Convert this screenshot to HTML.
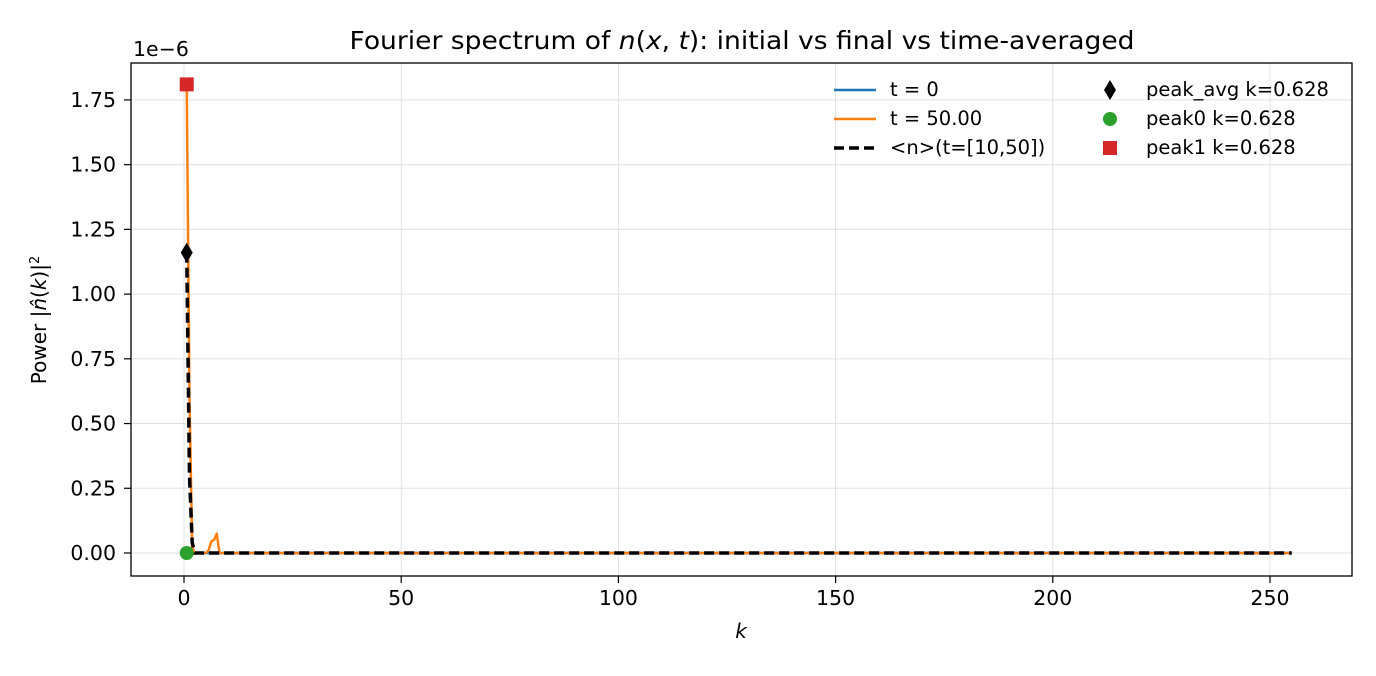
<!DOCTYPE html>
<html><head><meta charset="utf-8"><style>
body{margin:0;background:#fff;font-family:"DejaVu Sans","Liberation Sans",sans-serif;}
svg text{font-family:"DejaVu Sans","Liberation Sans",sans-serif;}
</style></head><body>
<svg id="c" width="1376" height="672" viewBox="0 0 1376 672" xmlns="http://www.w3.org/2000/svg">
<rect width="1376" height="672" fill="#fff"/>
<g id="grid"></g>
<g id="ticks"></g>
<g id="series"></g>
<rect x="131" y="63" width="1221" height="513" fill="none" stroke="#000" stroke-width="1.3"/>
<text x="742" y="49" font-size="24.5" text-anchor="middle" textLength="785" lengthAdjust="spacingAndGlyphs">Fourier spectrum of <tspan font-style="italic">n</tspan>(<tspan font-style="italic">x</tspan>, <tspan font-style="italic">t</tspan>): initial vs final vs time-averaged</text>
<text x="741" y="638" font-size="20" font-style="italic" text-anchor="middle">k</text>
<text transform="translate(46,320) rotate(-90)" font-size="20" text-anchor="middle">Power |<tspan font-style="italic">n̂</tspan>(<tspan font-style="italic">k</tspan>)|<tspan baseline-shift="super" font-size="13">2</tspan></text>
<text x="133" y="56" font-size="20.5">1e−6</text>
<g font-size="19.5">
<line x1="834" y1="90" x2="876" y2="90" stroke="#1f77b4" stroke-width="2.5"/>
<text x="890" y="96">t = 0</text>
<line x1="834" y1="119" x2="876" y2="119" stroke="#ff7f0e" stroke-width="2.5"/>
<text x="890" y="125">t = 50.00</text>
<line x1="834" y1="148" x2="876" y2="148" stroke="#000" stroke-width="3.5" stroke-dasharray="10,5"/>
<text x="890" y="154">&lt;n&gt;(t=[10,50])</text>
<polygon points="1110,80 1116,90 1110,100 1104,90" fill="#000"/>
<text x="1146" y="96">peak_avg k=0.628</text>
<circle cx="1110" cy="119" r="7" fill="#2ca02c"/>
<text x="1146" y="125">peak0 k=0.628</text>
<rect x="1103" y="141" width="14" height="14" fill="#d62728"/>
<text x="1146" y="154">peak1 k=0.628</text>
</g>
</svg>
<script>
const xTicks=[0,50,100,150,200,250];
const yTicks=[0,0.25,0.5,0.75,1.0,1.25,1.5,1.75];
const yTickLabels=["0.00","0.25","0.50","0.75","1.00","1.25","1.50","1.75"];
const kT0=[0.628,255];
const vT0=[0,0];
const kT50=[0.628,1.257,1.885,2.513,3.142,5.027,5.655,6.283,6.912,7.540,8.168,8.796,255];
const vT50=[1.81,0.6,0.02,0,0,0,0.01,0.045,0.05,0.075,0.0,0,0];
const kAvg=[0.628,1.257,1.885,2.513,255];
const vAvg=[1.16,0.3,0.04,0,0];
const peaks={avg:[0.628,1.16],p0:[0.628,0],p1:[0.628,1.81]};
const NS="http://www.w3.org/2000/svg";
const X=k=>184+(k)*4.344;
const Y=v=>553-v*258.9;
function mk(tag,attrs,parent){const e=document.createElementNS(NS,tag);for(const a in attrs)e.setAttribute(a,attrs[a]);document.getElementById(parent).appendChild(e);return e;}
xTicks.forEach(t=>{
 const g=mk('line',{x1:X(t),x2:X(t),y1:63,y2:576,stroke:'#e0e0e0','stroke-width':1},'grid');
 
 
 const tk=mk('line',{x1:X(t),x2:X(t),y1:576,y2:583,stroke:'#000','stroke-width':1.2},'ticks');
 
 
 const tx=mk('text',{x:X(t),y:605,'font-size':20.5,'text-anchor':'middle'},'ticks');
 tx.textContent=t;
 
 
});
yTicks.forEach((t,i)=>{
 const g=mk('line',{x1:131,x2:1352,y1:Y(t),y2:Y(t),stroke:'#e0e0e0','stroke-width':1},'grid');
 
 
 const tk=mk('line',{x1:124,x2:131,y1:Y(t),y2:Y(t),stroke:'#000','stroke-width':1.2},'ticks');
 
 
 const tx=mk('text',{x:116,y:Y(t)+7,'font-size':20.5,'text-anchor':'end'},'ticks');
 tx.textContent=yTickLabels[i];
 
 
});
function pts(ks,vs){return ks.map((k,i)=>X(k)+','+Y(vs[i])).join(' ');}
const l0=mk('polyline',{points:pts(kT0,vT0),fill:'none',stroke:'#1f77b4','stroke-width':2.5},'series');


const l1=mk('polyline',{points:pts(kT50,vT50),fill:'none',stroke:'#ff7f0e','stroke-width':2.5,'stroke-linejoin':'round'},'series');


const l2=mk('polyline',{points:pts(kAvg,vAvg),fill:'none',stroke:'#000','stroke-width':3.5,'stroke-dasharray':'10,5'},'series');


const pa=peaks.avg,px=X(pa[0]),py=Y(pa[1]);
const m1=mk('polygon',{points:`${px},${py-10} ${px+6},${py} ${px},${py+10} ${px-6},${py}`,fill:'#000'},'series');


const m2=mk('circle',{cx:X(peaks.p0[0]),cy:Y(peaks.p0[1]),r:7,fill:'#2ca02c'},'series');


const m3=mk('rect',{x:X(peaks.p1[0])-7,y:Y(peaks.p1[1])-7,width:14,height:14,fill:'#d62728'},'series');


</script>
</body></html>
